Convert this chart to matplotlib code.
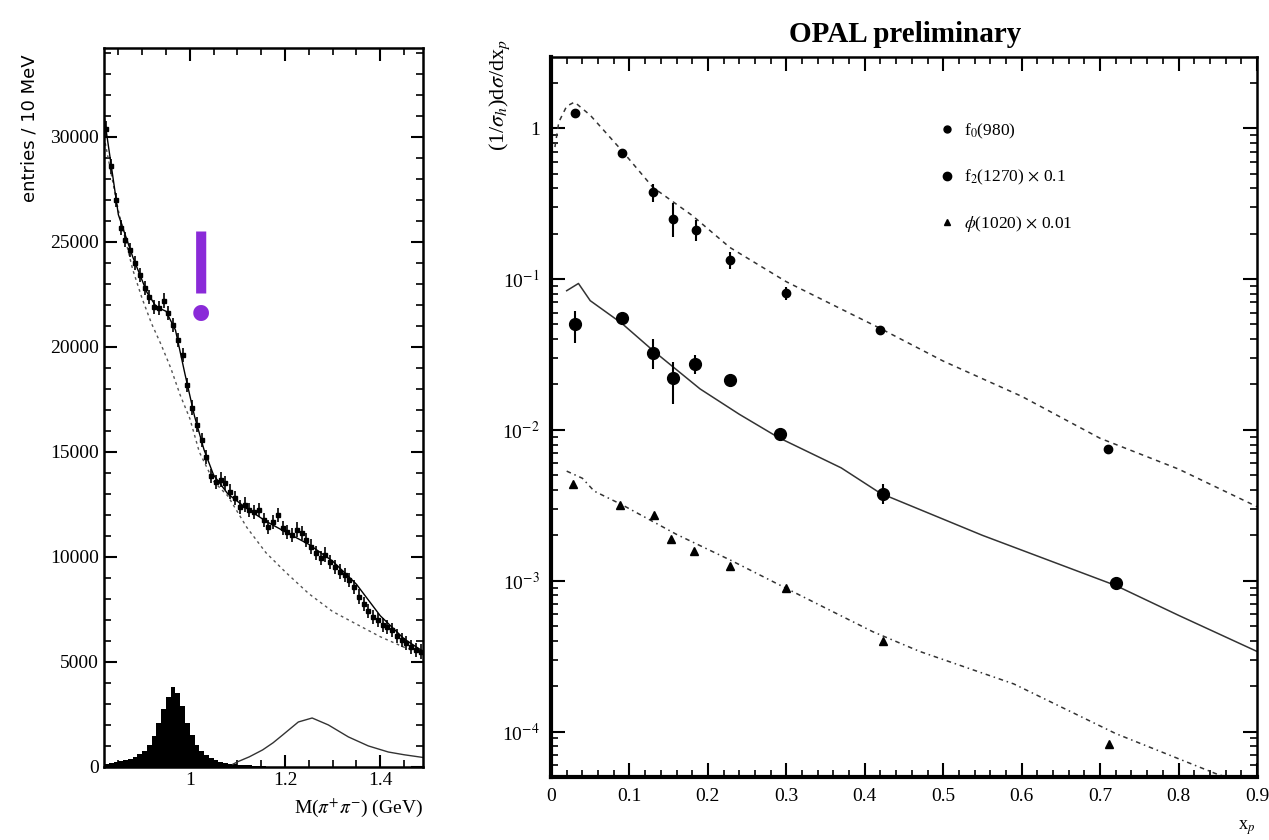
import numpy as np
import matplotlib
matplotlib.use("Agg")
import matplotlib.pyplot as plt
from matplotlib.ticker import MultipleLocator, FixedLocator, NullFormatter, LogLocator
from matplotlib.lines import Line2D

plt.rcParams['font.family'] = ['Liberation Serif', 'DejaVu Serif']
plt.rcParams['mathtext.fontset'] = 'stix'

# ---- left panel: pi+pi- mass spectrum ----
mass = [0.825, 0.835, 0.845, 0.855, 0.865, 0.875, 0.885, 0.895, 0.905, 0.915,
        0.925, 0.935, 0.945, 0.955, 0.965, 0.975, 0.985, 0.995, 1.005, 1.015,
        1.025, 1.035, 1.045, 1.055, 1.065, 1.075, 1.085, 1.095, 1.105, 1.115,
        1.125, 1.135, 1.145, 1.155, 1.165, 1.175, 1.185, 1.195, 1.205, 1.215,
        1.225, 1.235, 1.245, 1.255, 1.265, 1.275, 1.285, 1.295, 1.305, 1.315,
        1.325, 1.335, 1.345, 1.355, 1.365, 1.375, 1.385, 1.395, 1.405, 1.415,
        1.425, 1.435, 1.445, 1.455, 1.465, 1.475, 1.485]
entries = [30400, 28600, 27000, 25670, 25100, 24620, 24000, 23430, 22810, 22380,
           21900, 21860, 22200, 21620, 21050, 20330, 19620, 18190, 17100, 16290,
           15570, 14760, 13860, 13570, 13670, 13520, 13100, 12810, 12380, 12480,
           12240, 12140, 12240, 11760, 11430, 11670, 12000, 11380, 11190, 11050,
           11290, 11140, 10810, 10480, 10190, 9950, 10100, 9760, 9520, 9290,
           9140, 8900, 8570, 8100, 7760, 7430, 7140, 7000, 6760, 6670,
           6520, 6240, 6050, 5900, 5710, 5570, 5480]
entries_err = 350

fit_m = [0.82, 0.85, 0.88, 0.91, 0.93, 0.95, 0.97, 0.99, 1.01, 1.03, 1.05, 1.08,
         1.12, 1.16, 1.20, 1.25, 1.30, 1.35, 1.40, 1.45, 1.49]
fit_total = [31000, 26300, 24300, 22600, 21900, 21700, 20800, 18700, 16700, 15100,
             13900, 13000, 12300, 11700, 11200, 10600, 9800, 8700, 7200, 6100, 5500]

bkg_m = [0.82, 0.85, 0.88, 0.90, 0.92, 0.94, 0.96, 0.98, 1.00, 1.02, 1.05, 1.08,
         1.12, 1.16, 1.20, 1.25, 1.30, 1.35, 1.40, 1.45, 1.49]
bkg = [30000, 26500, 23700, 22300, 21100, 20100, 19000, 17700, 16600, 15000, 13600,
       12900, 11400, 10200, 9300, 8250, 7400, 6800, 6200, 5700, 5400]

f0_m = [0.825, 0.835, 0.845, 0.855, 0.865, 0.875, 0.885, 0.895, 0.905, 0.915,
        0.925, 0.935, 0.945, 0.955, 0.965, 0.975, 0.985, 0.995, 1.005, 1.015,
        1.025, 1.035, 1.045, 1.055, 1.065, 1.075, 1.085, 1.095, 1.105, 1.115,
        1.125, 1.135, 1.145, 1.155]
f0_peak = [150, 180, 220, 270, 330, 400, 490, 610, 780, 1050,
           1450, 2100, 2750, 3350, 3800, 3500, 2900, 2100, 1500, 1050,
           760, 560, 420, 320, 250, 200, 160, 130, 110, 90,
           75, 60, 50, 40]

f2_m = [1.09, 1.10, 1.125, 1.153, 1.175, 1.195, 1.228, 1.257, 1.291, 1.333,
        1.375, 1.417, 1.45, 1.49]
f2_curve = [120, 240, 480, 810, 1150, 1520, 2140, 2330, 2000, 1430,
            1000, 710, 580, 450]

# ---- right panel: x_p spectra ----
xp_f0 = [0.03, 0.09, 0.13, 0.155, 0.185, 0.228, 0.30, 0.42, 0.71]
val_f0 = [1.26, 0.68, 0.376, 0.249, 0.213, 0.134, 0.081, 0.046, 0.0075]
lo_f0 = [0.06, 0.03, 0.05, 0.06, 0.035, 0.018, 0.008, 0.003, 0.0004]
hi_f0 = [0.06, 0.03, 0.05, 0.07, 0.035, 0.018, 0.008, 0.003, 0.0004]

xp_f2 = [0.03, 0.09, 0.13, 0.155, 0.183, 0.228, 0.292, 0.423, 0.72]
val_f2 = [0.0506, 0.0555, 0.0325, 0.0221, 0.0275, 0.0214, 0.0094, 0.00375, 0.00096]
lo_f2 = [0.013, 0.004, 0.007, 0.0072, 0.004, 0.0015, 0.0008, 0.0005, 0.00006]
hi_f2 = [0.011, 0.004, 0.0076, 0.006, 0.004, 0.0015, 0.0008, 0.0006, 0.00006]

xp_phi = [0.028, 0.088, 0.131, 0.153, 0.182, 0.228, 0.30, 0.423, 0.711]
val_phi = [0.0044, 0.0032, 0.00272, 0.00188, 0.00157, 0.00126, 0.00089, 0.00040, 0.000083]

curve_f0_x = [0.005, 0.01, 0.02, 0.03, 0.05, 0.09, 0.13, 0.18, 0.228, 0.30, 0.42,
              0.50, 0.60, 0.70, 0.80, 0.90]
curve_f0_y = [0.75, 1.1, 1.4, 1.49, 1.22, 0.714, 0.405, 0.264, 0.162, 0.096, 0.047,
              0.0286, 0.0167, 0.0088, 0.0055, 0.0031]

curve_f2_x = [0.02, 0.035, 0.05, 0.09, 0.13, 0.19, 0.24, 0.29, 0.37, 0.42, 0.55, 0.72, 0.80, 0.90]
curve_f2_y = [0.0837, 0.0935, 0.0719, 0.051, 0.0336, 0.0187, 0.0127, 0.0089, 0.0056, 0.0038,
              0.0020, 0.00093, 0.00059, 0.00034]

curve_phi_x = [0.02, 0.04, 0.055, 0.09, 0.16, 0.23, 0.30, 0.41, 0.47, 0.59, 0.72, 0.85, 0.88]
curve_phi_y = [0.00533, 0.00478, 0.00393, 0.0032, 0.00203, 0.00136, 0.00089, 0.00046,
               0.00034, 0.000207, 0.000097, 0.000052, 0.000047]

xp_ticks = [0, 0.1, 0.2, 0.3, 0.4, 0.5, 0.6, 0.7, 0.8, 0.9]
xp_ticklabels = ['0', '0.1', '0.2', '0.3', '0.4', '0.5', '0.6', '0.7', '0.8', '0.9']
legend_labels = [r'f$_0$(980)', r'f$_2$(1270) $\times$ 0.1', r'$\phi$(1020) $\times$ 0.01']

fig = plt.figure(figsize=(12.69, 8.4), dpi=100)

# left
ax1 = fig.add_axes([0.082, 0.087, 0.2514, 0.856])
ax1.bar(f0_m, f0_peak, width=0.01, color='black', linewidth=0)
ax1.plot(f2_m, f2_curve, color='#333333', lw=1.0)
ax1.plot(bkg_m, bkg, color='#555555', lw=1.0, ls=(0, (2, 2.5)))
ax1.plot(fit_m, fit_total, color='black', lw=1.0)
ax1.errorbar(mass, entries, yerr=entries_err, fmt='s', ms=3.5, color='black',
             elinewidth=1.2, capsize=0)
ax1.set_xlim(0.82, 1.49)
ax1.set_ylim(0, 34240)
ax1.xaxis.set_major_locator(FixedLocator([1.0, 1.2, 1.4]))
ax1.xaxis.set_minor_locator(MultipleLocator(0.05))
ax1.set_xticklabels(['1', '1.2', '1.4'])
ax1.yaxis.set_major_locator(MultipleLocator(5000))
ax1.yaxis.set_minor_locator(MultipleLocator(1000))
ax1.tick_params(which='both', direction='in', top=True, right=True, labelsize=14)
ax1.tick_params(which='major', length=9, width=1.5)
ax1.tick_params(which='minor', length=5, width=1.2)
for s in ax1.spines.values():
    s.set_linewidth(1.8)
ax1.text(1.023, 22900, '!', color='#8a2ad8', fontsize=96, fontweight='normal',
         family='Liberation Serif', ha='center', va='center')

fig.text(30 / 1269, 1 - 128 / 840, 'entries / 10 MeV', rotation=90, ha='center',
         va='center', fontsize=13, family='DejaVu Sans')
fig.text(423 / 1269, 1 - 808 / 840, r'M($\pi^{+}\pi^{-}$) (GeV)', ha='right',
         va='center', fontsize=14)

# right
ax2 = fig.add_axes([0.4342, 0.075, 0.5563, 0.857])
ax2.set_yscale('log')
ax2.plot(curve_f0_x, curve_f0_y, color='#333333', lw=1.1, ls=(0, (3, 3)))
ax2.plot(curve_f2_x, curve_f2_y, color='#333333', lw=1.1)
ax2.plot(curve_phi_x, curve_phi_y, color='#333333', lw=1.1, ls=(0, (3, 2.5, 1, 2.5)))
ax2.errorbar(xp_f0, val_f0, yerr=[lo_f0, hi_f0], fmt='o', ms=6, color='black',
             elinewidth=1.5, capsize=0)
ax2.errorbar(xp_f2, val_f2, yerr=[lo_f2, hi_f2], fmt='o', ms=8.5, color='black',
             elinewidth=1.5, capsize=0)
ax2.plot(xp_phi, val_phi, '^', ms=6, color='black')
ax2.set_xlim(0, 0.9)
ax2.set_ylim(5e-5, 2.96)
ax2.xaxis.set_major_locator(FixedLocator(xp_ticks))
ax2.xaxis.set_minor_locator(MultipleLocator(0.02))
ax2.set_xticklabels(xp_ticklabels)
ax2.yaxis.set_major_locator(FixedLocator([1e-4, 1e-3, 1e-2, 1e-1, 1]))
ax2.set_yticklabels([r'10$^{-4}$', r'10$^{-3}$', r'10$^{-2}$', r'10$^{-1}$', '1'])
ax2.yaxis.set_minor_locator(LogLocator(subs=np.arange(2, 10), numticks=20))
ax2.yaxis.set_minor_formatter(NullFormatter())
ax2.tick_params(which='both', direction='in', top=True, right=True, labelsize=14)
ax2.tick_params(which='major', length=10, width=1.5, pad=8)
ax2.tick_params(which='minor', length=5, width=1.2)
ax2.spines['left'].set_linewidth(3)
ax2.spines['bottom'].set_linewidth(3)
ax2.spines['top'].set_linewidth(1.8)
ax2.spines['right'].set_linewidth(1.8)

handles = [Line2D([], [], marker='o', ms=5, ls='none', color='black'),
           Line2D([], [], marker='o', ms=6, ls='none', color='black'),
           Line2D([], [], marker='^', ms=5, ls='none', color='black')]
ax2.legend(handles, legend_labels, loc='upper left', bbox_to_anchor=(0.548, 0.91),
           frameon=False, fontsize=12.5, handletextpad=0.5, labelspacing=1.55,
           handlelength=1.0, borderpad=0, borderaxespad=0)

fig.text(905 / 1269, 1 - 35 / 840, 'OPAL preliminary', ha='center', va='center',
         fontsize=21, fontweight='bold')
fig.text(500 / 1269, 1 - 95 / 840, r'(1/$\sigma_h$)d$\sigma$/dx$_p$', rotation=90,
         ha='center', va='center', fontsize=16)
fig.text(1247 / 1269, 1 - 828 / 840, r'x$_p$', ha='center', va='center', fontsize=13)

fig.savefig('out.png', dpi=100)
